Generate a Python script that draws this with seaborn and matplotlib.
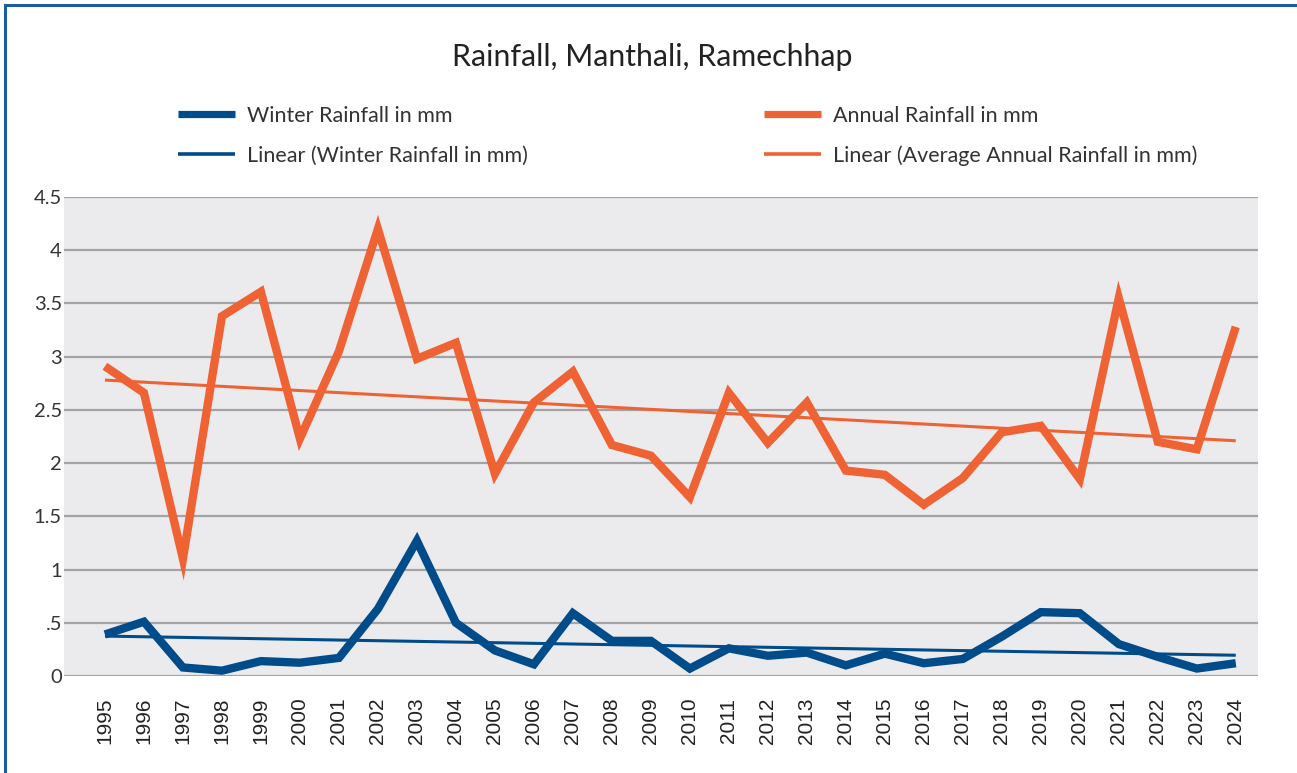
import numpy as np
import pandas as pd
import matplotlib
matplotlib.use("Agg")
import matplotlib.pyplot as plt
import seaborn as sns
from matplotlib.lines import Line2D
from matplotlib.patches import Rectangle

years = list(range(1995, 2025))
annual_rainfall = [2.91, 2.66, 1.10, 3.38, 3.61, 2.23, 3.05, 4.20, 2.98, 3.13,
                   1.90, 2.57, 2.86, 2.17, 2.07, 1.68, 2.66, 2.19, 2.57, 1.93,
                   1.89, 1.61, 1.86, 2.29, 2.35, 1.85, 3.55, 2.20, 2.13, 3.28]
winter_rainfall = [0.39, 0.51, 0.08, 0.05, 0.14, 0.125, 0.17, 0.63, 1.27, 0.50,
                   0.24, 0.11, 0.59, 0.33, 0.33, 0.07, 0.26, 0.19, 0.22, 0.10,
                   0.21, 0.12, 0.16, 0.37, 0.60, 0.59, 0.30, 0.18, 0.07, 0.12]
# trendline end values (1995, 2024)
trend_years = [1995, 2024]
annual_trend = [2.78, 2.21]
winter_trend = [0.375, 0.195]
y_ticks = [0, 0.5, 1, 1.5, 2, 2.5, 3, 3.5, 4, 4.5]
y_tick_labels = ["0", ".5", "1", "1.5", "2", "2.5", "3", "3.5", "4", "4.5"]
title = "Rainfall, Manthali, Ramechhap"
labels_left = ["Winter Rainfall in mm", "Linear (Winter Rainfall in mm)"]
labels_right = ["Annual Rainfall in mm", "Linear (Average Annual Rainfall in mm)"]

BLUE = "#004C8A"
ORANGE = "#EE6233"

df = pd.DataFrame({"year": years, "annual": annual_rainfall, "winter": winter_rainfall})
tdf = pd.DataFrame({"year": trend_years, "annual": annual_trend, "winter": winter_trend})

sns.set_theme(style="white")
plt.rcParams["font.family"] = ["Lato", "DejaVu Sans"]

W, H = 1297, 773
fig = plt.figure(figsize=(W / 100, H / 100), dpi=100)
ax = fig.add_axes([64 / W, 1 - 676 / H, (1258 - 64) / W, (676 - 197) / H])
ax.set_facecolor("#EBEBED")

thick = dict(linewidth=6, solid_joinstyle="miter", solid_capstyle="butt", zorder=3)
thin = dict(linewidth=2.2, solid_capstyle="butt", zorder=4)
sns.lineplot(data=df, x="year", y="annual", ax=ax, color=ORANGE, **thick)
sns.lineplot(data=tdf, x="year", y="annual", ax=ax, color=ORANGE, **thin)
sns.lineplot(data=df, x="year", y="winter", ax=ax, color=BLUE, **thick)
sns.lineplot(data=tdf, x="year", y="winter", ax=ax, color=BLUE, **thin)

ax.set_xlim(1993.95, 2024.57)
ax.set_ylim(0, 4.5)
ax.set_yticks(y_ticks)
ax.set_yticklabels(y_tick_labels, fontsize=14.5, color="#333333")
ax.set_xticks(years)
ax.set_xticklabels([str(y) for y in years], rotation=90, fontsize=15,
                   color="#222222", family=["Liberation Sans", "DejaVu Sans"])
ax.tick_params(axis="x", length=0, pad=15.5)
ax.tick_params(axis="y", length=0, pad=1.5)
ax.set_xlabel("")
ax.set_ylabel("")
for s in ax.spines.values():
    s.set_visible(False)
ax.grid(axis="y", color="#A3A3A5", linewidth=1.6, zorder=1)
ax.grid(axis="x", visible=False)
ax.set_axisbelow(True)

fig.text(652 / W, 1 - 57 / H, title, ha="center", va="center", fontsize=21.8, color="#222222")

leg_kw = dict(loc="upper left", frameon=False, fontsize=15.5, handlelength=2.65,
              handletextpad=0.56, labelspacing=0.9, borderpad=0, borderaxespad=0)
h_left = [Line2D([], [], color=BLUE, linewidth=5.2, solid_capstyle="butt"),
          Line2D([], [], color=BLUE, linewidth=2.6, solid_capstyle="butt")]
h_right = [Line2D([], [], color=ORANGE, linewidth=5.2, solid_capstyle="butt"),
           Line2D([], [], color=ORANGE, linewidth=2.6, solid_capstyle="butt")]
leg1 = fig.legend(h_left, labels_left, bbox_to_anchor=(178 / W, 1 - 106 / H), **leg_kw)
leg2 = fig.legend(h_right, labels_right, bbox_to_anchor=(764 / W, 1 - 106 / H), **leg_kw)
for lg in (leg1, leg2):
    for t in lg.get_texts():
        t.set_color("#333333")

fig.add_artist(Rectangle((5 / W, -0.05), 1.2, 1 - 5 / H + 0.05, transform=fig.transFigure,
                         fill=False, edgecolor="#1D5C9C", linewidth=2.2))

fig.savefig("out.png", dpi=100)
